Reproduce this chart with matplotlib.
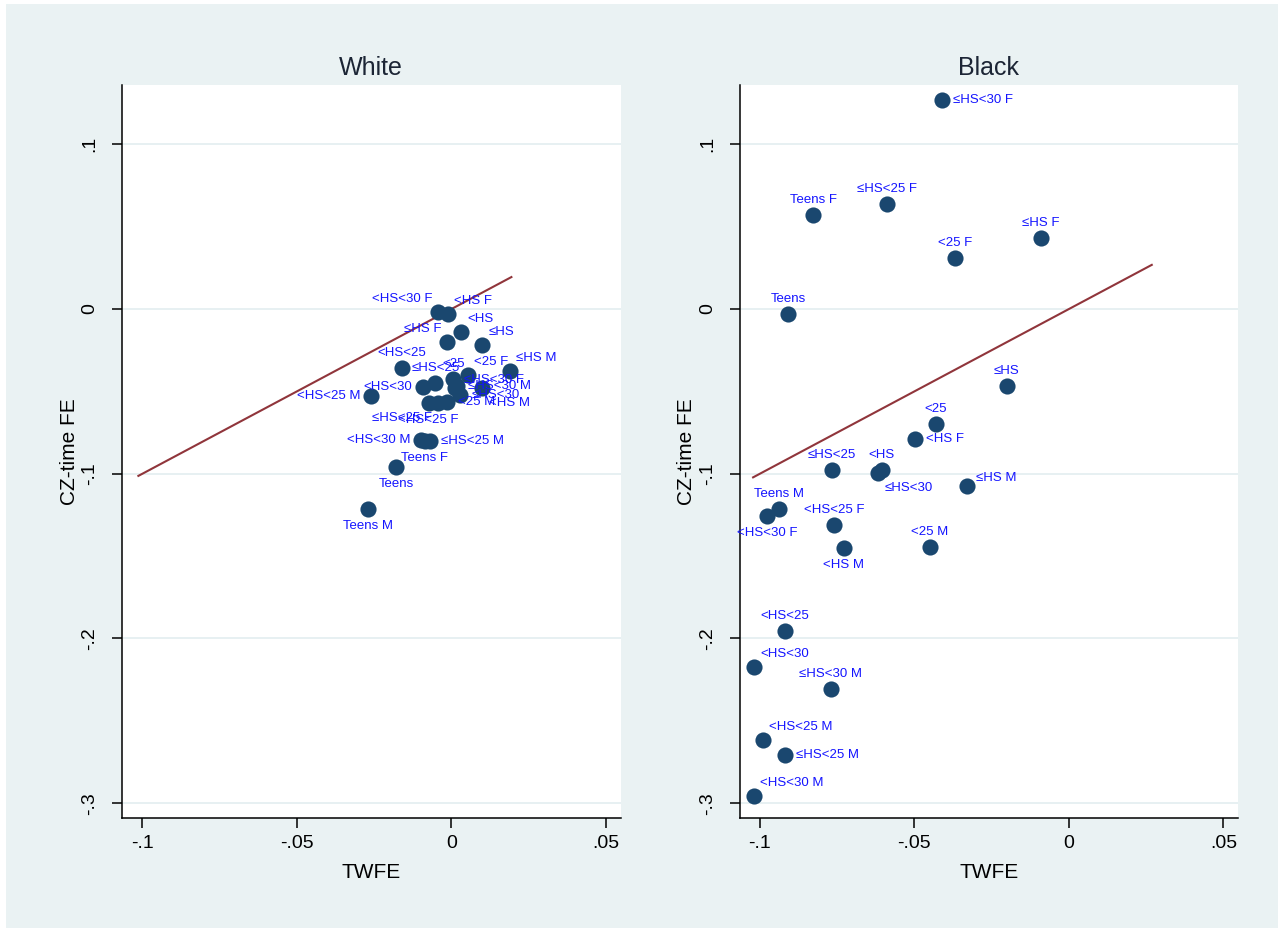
import matplotlib.pyplot as plt
import matplotlib.patches as mp
import numpy as np

plt.rcParams['font.family'] = ['Liberation Sans', 'DejaVu Sans']

# --- data ---
white_lab = ['<HS<30 F', '<HS F', '<HS', '\u2264HS F', '\u2264HS', '<HS<25', '\u2264HS M', '<25 F',
             '<25', '\u2264HS<25', '<HS<30', '\u2264HS<30 F', '\u2264HS<30 M', '<HS M', '\u2264HS<30',
             '<HS<25 M', '<HS<25 F', '\u2264HS<25 F', '<25 M', '<HS<30 M', 'Teens F', '\u2264HS<25 M',
             'Teens', 'Teens M']
white_x = [-0.0042, -0.0010, 0.0031, -0.0013, 0.0100, -0.0160, 0.0191, 0.0052,
           0.0006, -0.0052, -0.0091, 0.0013, 0.0019, 0.0100, 0.0029,
           -0.0259, -0.0074, -0.0045, -0.0013, -0.0097, -0.0087, -0.0068,
           -0.0178, -0.0269]
white_y = [-0.0018, -0.0030, -0.0140, -0.0200, -0.0219, -0.0358, -0.0377, -0.0401,
           -0.0425, -0.0450, -0.0474, -0.0480, -0.0468, -0.0480, -0.0522,
           -0.0529, -0.0571, -0.0571, -0.0565, -0.0796, -0.0802, -0.0802,
           -0.0960, -0.1215]

black_lab = ['\u2264HS<30 F', '\u2264HS<25 F', 'Teens F', '\u2264HS F', '<25 F', 'Teens', '\u2264HS', '<25',
             '<HS F', '\u2264HS<25', '<HS', '\u2264HS<30', '\u2264HS M', 'Teens M', '<HS<30 F',
             '<HS<25 F', '<25 M', '<HS M', '<HS<25', '<HS<30', '\u2264HS<30 M', '<HS<25 M',
             '\u2264HS<25 M', '<HS<30 M']
black_x = [-0.0411, -0.0589, -0.0828, -0.0091, -0.0369, -0.0909, -0.0201, -0.0430,
           -0.0498, -0.0767, -0.0605, -0.0618, -0.0330, -0.0938, -0.0977,
           -0.0760, -0.0450, -0.0728, -0.0919, -0.1019, -0.0770, -0.0990,
           -0.0918, -0.1019]
black_y = [0.1270, 0.0638, 0.0571, 0.0431, 0.0310, -0.0030, -0.0468, -0.0699,
           -0.0790, -0.0978, -0.0978, -0.0996, -0.1075, -0.1215, -0.1258,
           -0.1310, -0.1446, -0.1452, -0.1956, -0.2175, -0.2309, -0.2618,
           -0.2710, -0.2959]

# 45 degree reference line (y = x) endpoints
white_line = [-0.1013, 0.0194]
black_line = [-0.1022, 0.0268]

xticks = [-0.1, -0.05, 0, 0.05]
xticklabels = ['-.1', '-.05', '0', '.05']
yticks = [-0.3, -0.2, -0.1, 0, 0.1]
yticklabels = ['-.3', '-.2', '-.1', '0', '.1']

# label positions (clock positions, as in Stata mlabvposition)
white_pos = [11, 1, 1, 11, 1, 12, 1, 1,
             12, 12, 9, 2, 3, 4, 3,
             9, 6, 7, 3, 9, 6, 3,
             6, 6]
black_pos = [3, 12, 12, 12, 12, 12, 12, 12,
             3, 12, 12, 4, 2, 12, 6,
             12, 12, 6, 12, 1, 12, 1,
             3, 1]

# offsets in pixels (dx, dy up), alignment
px = 0.72
clock = {12: (0, 15, 'center'), 6: (0, -17, 'center'), 3: (11, 0, 'left'), 9: (-11, 0, 'right'),
         1: (6, 13, 'left'), 2: (9, 8, 'left'), 4: (7, -15, 'left'), 11: (-6, 13, 'right'),
         7: (-6, -15, 'right'), 5: (6, -13, 'left')}

bg = '#eaf2f3'
navy = '#1a476f'
maroon = '#90353b'
fs = 14

W, H = 1284, 932
fig = plt.figure(figsize=(W / 100, H / 100), dpi=100, facecolor='white')
fig.patches.append(mp.Rectangle((6 / W, 4 / H), (W - 12) / W, (H - 8) / H, transform=fig.transFigure,
                                facecolor=bg, edgecolor='none', zorder=-10))

panels = [('White', white_x, white_y, white_lab, white_pos, white_line, 122),
          ('Black', black_x, black_y, black_lab, black_pos, black_line, 739.5)]

for (title, xs, ys, labs, pos, line, left) in panels:
    ax = fig.add_axes([left / W, (H - 818) / H, 498.5 / W, (818 - 85) / H])
    ax.set_facecolor('white')
    ax.set_xlim(-0.1066, 0.0547)
    ax.set_ylim(-0.309, 0.136)
    for yy in yticks:
        ax.axhline(yy, color='#e3edf0', linewidth=1.2, zorder=0)
    ax.plot(line, line, color=maroon, linewidth=1.5, zorder=2)
    ax.scatter(xs, ys, s=135, color=navy, linewidths=0, zorder=3)
    for (l, xx, yy, p) in zip(labs, xs, ys, pos):
        dx, dy, ha = clock[p]
        ax.annotate(l, (xx, yy), xytext=(dx * px, dy * px), textcoords='offset points',
                    ha=ha, va='center', fontsize=9.5, color='#1414ff', zorder=4)
    for sp in ['top', 'right']:
        ax.spines[sp].set_visible(False)
    for sp in ['left', 'bottom']:
        ax.spines[sp].set_linewidth(1.1)
    ax.set_xticks(xticks)
    ax.set_xticklabels(xticklabels, fontsize=fs)
    ax.set_yticks(yticks)
    ax.set_yticklabels(yticklabels, fontsize=fs, rotation=90, va='center')
    ax.tick_params(direction='out', length=7, width=1.1, pad=5)
    ax.tick_params(axis='y', pad=10)
    ax.set_xlabel('TWFE', fontsize=15, labelpad=8)
    ax.set_ylabel('CZ-time FE', fontsize=15, labelpad=2)
    ax.set_title(title, fontsize=18, color='#1c2535', pad=7)

plt.savefig('out.png', dpi=100, facecolor='white')
